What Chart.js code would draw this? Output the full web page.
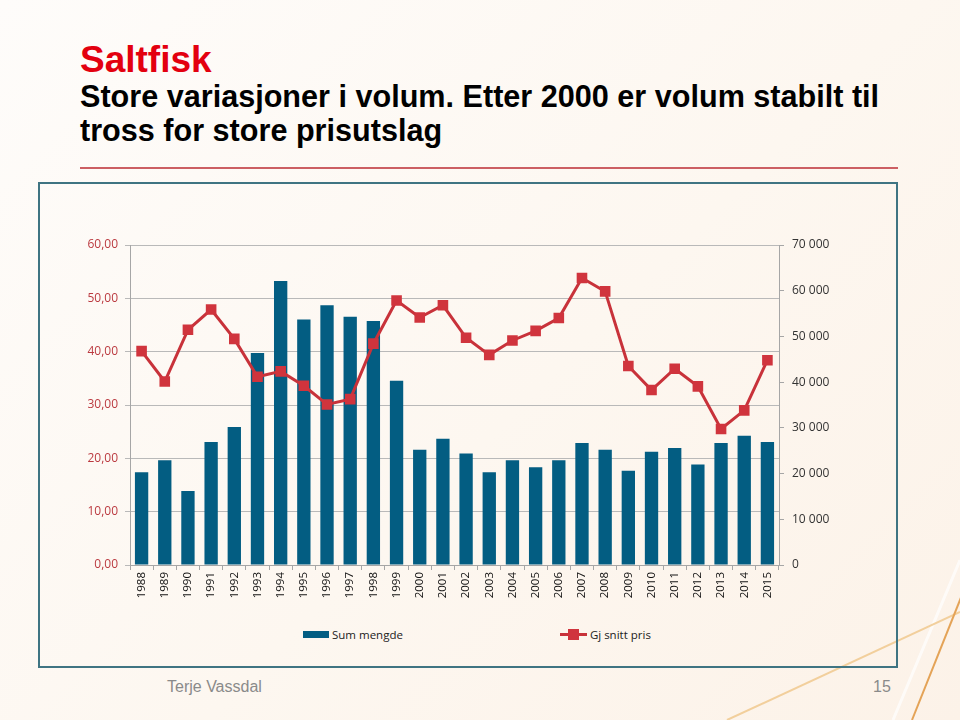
<!DOCTYPE html>
<html lang="no">
<head>
<meta charset="utf-8">
<title>Saltfisk</title>
<script src="https://cdn.jsdelivr.net/npm/chart.js@4.4.1/dist/chart.umd.min.js"></script>
<style>
  html, body { margin: 0; padding: 0; }
  body {
    width: 960px; height: 720px; position: relative; overflow: hidden;
    background: linear-gradient(135deg, #fefcfa 0%, #fdf7f0 55%, #fcf2e8 100%);
    font-family: "Liberation Sans", Arial, sans-serif;
  }
  .deco { position: absolute; left: 0; top: 0; }
  .tittel {
    position: absolute; left: 80px; top: 41px;
    font-size: 37px; line-height: 37px; font-weight: bold; color: #e3000f;
  }
  .undertittel {
    position: absolute; left: 80px; top: 79px;
    font-size: 30.6px; line-height: 34px; font-weight: bold; color: #000;
  }
  .strek {
    position: absolute; left: 80px; top: 167px; width: 818px; height: 2px;
    background: #cc5f63;
  }
  .boks {
    position: absolute; left: 38px; top: 182px; width: 860px; height: 486px;
    box-sizing: border-box; border: 2px solid #3f7482;
  }
  #saltfisk { position: absolute; left: 40px; top: 185px; }
  .legende {
    position: absolute; left: 303px; top: 626px; display: flex; gap: 157px;
    font-family: "Open Sans", sans-serif; font-size: 11.5px; color: #222;
  }
  .legende div { display: flex; align-items: center; height: 16px; }
  .legende i { display: inline-block; position: relative; margin-right: 3px; }
  .legende i b { position: absolute; }
  .fot {
    position: absolute; top: 679px; font-family: "Liberation Sans Narrow", "Liberation Sans", sans-serif;
    font-size: 16px; line-height: 16px; color: #8a8a8a;
  }
</style>
</head>
<body>
<svg class="deco" width="960" height="720">
  <line x1="893" y1="720" x2="960" y2="560" stroke="#ffffff" stroke-width="3" opacity="0.7" />
  <line x1="727" y1="720" x2="960" y2="612" stroke="#f2cf9c" stroke-width="2" />
  <line x1="912" y1="720" x2="962" y2="595" stroke="#e4a357" stroke-width="2" />
</svg>

<div class="tittel">Saltfisk</div>
<div class="undertittel">Store variasjoner i volum. Etter 2000 er volum stabilt til<br>tross for store prisutslag</div>
<div class="strek"></div>
<div class="boks"></div>

<canvas id="saltfisk" width="856" height="420"></canvas>
<div class="legende" id="legende"></div>

<div class="fot" style="left:167px">Terje Vassdal</div>
<div class="fot" style="left:873px">15</div>

<script>
// data lest av figuren
const aar = [
  "1988", "1989", "1990", "1991", "1992", "1993", "1994", "1995", "1996", "1997",
  "1998", "1999", "2000", "2001", "2002", "2003", "2004", "2005", "2006", "2007",
  "2008", "2009", "2010", "2011", "2012", "2013", "2014", "2015",
];
const sumMengde = [
  20300, 22900, 16200, 26900, 30200, 46400, 62100, 53700, 56800, 54300,
  53400, 40300, 25200, 27600, 24400, 20300, 22900, 21400, 22900, 26700,
  25200, 20600, 24800, 25600, 22000, 26700, 28300, 26900,
];
const gjSnittPris = [
  40.1, 34.4, 44.1, 47.9, 42.4, 35.3, 36.3, 33.6, 30.1, 31.1,
  41.5, 49.6, 46.4, 48.7, 42.6, 39.4, 42.1, 43.9, 46.3, 53.8,
  51.3, 37.3, 32.8, 36.8, 33.5, 25.5, 29.0, 38.4,
];
const prisTicks = [0, 10, 20, 30, 40, 50, 60];
const mengdeTicks = [0, 10000, 20000, 30000, 40000, 50000, 60000, 70000];

const tickFont = { family: "Open Sans", size: 12 };

const ctx = document.getElementById("saltfisk").getContext("2d");
const saltfiskChart = new Chart(ctx, {
  type: "bar",
  data: {
    labels: aar,
    datasets: [
      {
        type: "line",
        label: "Gj snitt pris",
        data: gjSnittPris,
        yAxisID: "pris",
        borderColor: "#c8323a",
        backgroundColor: "#d0343d",
        pointBackgroundColor: "#d0343d",
        pointBorderColor: "#c8323a",
        borderWidth: 3,
        pointStyle: "rect",
        pointRadius: 7.5,
        pointBorderWidth: 0,
        tension: 0,
        order: 1,
      },
      {
        label: "Sum mengde",
        data: sumMengde,
        yAxisID: "mengde",
        backgroundColor: "#035d82",
        barPercentage: 0.575,
        categoryPercentage: 1,
        order: 2,
      },
    ],
  },
  options: {
    responsive: false,
    animation: false,
    layout: { padding: { top: 60, left: 0, right: 0, bottom: 0 } },
    plugins: {
      legend: { display: false },
      tooltip: { enabled: false },
    },
    scales: {
      x: {
        grid: { offset: true, drawOnChartArea: false, tickLength: 5, color: "#a6a6a6" },
        border: { color: "#a6a6a6" },
        ticks: {
          minRotation: 90,
          maxRotation: 90,
          padding: 2,
          color: "#111",
          font: { family: "Open Sans", size: 11.5 },
        },
        afterFit: (scale) => {
          scale.height = 40;
        },
      },
      pris: {
        position: "left",
        min: 0,
        max: 60,
        afterBuildTicks: (scale) => {
          scale.ticks = prisTicks.map((v) => ({ value: v }));
        },
        ticks: {
          callback: (v) => v.toFixed(2).replace(".", ","),
          color: "#bb3a40",
          padding: 7,
          font: tickFont,
        },
        grid: { color: "#b9b9b9", tickLength: 5 },
        border: { color: "#a6a6a6" },
        afterFit: (scale) => {
          scale.width = 90;
        },
      },
      mengde: {
        position: "right",
        min: 0,
        max: 70000,
        afterBuildTicks: (scale) => {
          scale.ticks = mengdeTicks.map((v) => ({ value: v }));
        },
        ticks: {
          callback: (v) => String(v).replace(/\B(?=(\d{3})+(?!\d))/g, " "),
          color: "#333",
          padding: 8,
          font: tickFont,
        },
        grid: { drawOnChartArea: false, tickLength: 5, color: "#a6a6a6" },
        border: { color: "#a6a6a6" },
        afterFit: (scale) => {
          scale.width = 117;
        },
      },
    },
  },
});

// legende som html, søyle først
const legende = document.getElementById("legende");
saltfiskChart.data.datasets.slice().reverse().forEach((ds) => {
  const item = document.createElement("div");
  const merke = document.createElement("i");
  if (ds.type === "line") {
    merke.style.cssText = "width:27px;height:3px;background:" + ds.borderColor;
    const firkant = document.createElement("b");
    firkant.style.cssText = "left:8px;top:-4px;width:11px;height:11px;background:" + ds.backgroundColor;
    merke.appendChild(firkant);
  } else {
    merke.style.cssText = "width:26px;height:7px;background:" + ds.backgroundColor;
  }
  item.appendChild(merke);
  item.appendChild(document.createTextNode(ds.label));
  legende.appendChild(item);
});
</script>
</body>
</html>
